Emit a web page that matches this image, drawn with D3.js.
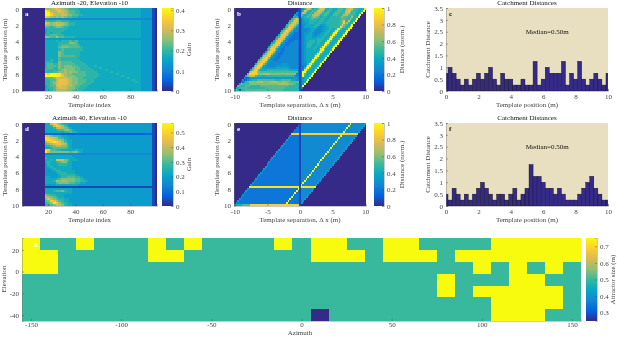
<!DOCTYPE html>
<html>
<head>
<meta charset="utf-8">
<script src="https://cdn.jsdelivr.net/npm/d3@7"></script>
<style>
body { margin: 0; background: #fff; }
svg { filter: blur(0.35px); }
text { font-family: "Liberation Serif", serif; font-size: 7px; fill: #444; }
.cell { shape-rendering: crispEdges; }
</style>
</head>
<body>
<div id="vis"></div>
<script>
// template gain, hex digit per cell, columns start at template index 18 and are 2 wide
const gainA = [
"a9abcba987 7766666666 6666666666 6666655551",
"fdaabcba98 8776666666 6666666666 6666655551",
"ffcaabba98 8776666666 6666666666 6666655551",
"ffdbaabb99 8877666666 6666666666 6666655551",
"dca9a9a988 7766666666 6666666666 6666655551",
"4444444444 4444444444 4444444444 4444444441",
"8777887776 6666666666 6666666666 6666655551",
"cb9abaa987 7666666666 6666666666 6666655551",
"ba9abba987 7666666666 6666666666 6666655551",
"8878998776 6666666666 6666666666 6666655551",
"6777777766 6666666666 6666666666 6666655551",
"6777777666 6666666666 6666666666 6666655551",
"6767776666 6666666666 6666666666 6666655551",
"7788877666 6666666666 6666666666 6666655551",
"a988a88777 7666666666 6666666666 6666655551",
"5555555555 5555555555 5555555555 5555555551",
"6666767778 7866666666 6666666666 6666655551",
"6666677779 9866666666 6666666666 6666655551",
"6666678888 8876666666 6666666666 6666655551",
"6666689998 8887666666 6666666666 6666655551",
"6666678777 7777666666 6666666666 6666655551",
"6666698777 7776666666 6666666666 6666655551",
"6666698777 7776666666 6666666666 6666655551",
"6666698888 8776666666 6666666666 6666655551",
"6666687777 7766666666 6666666666 6666655551",
"6676687777 7776666666 6666666666 6666655551",
"7776698888 7777666666 6666666666 6666655551",
"7887798888 8777766666 6666666666 6666655551",
"7888798999 8877776676 6666666666 6666655551",
"7887798999 9887777666 7666666666 6666655551",
"8777789a99 9887777766 6676666666 6666655551",
"7778899a9a 9988877776 6666766666 6666655551",
"edffeeba99 8888877777 6666667666 6666655551",
"fffffeca99 9888877777 6666666676 6666655551",
"8889bbbbaa 9988777776 6666666666 7666655551",
"7788acccba 9988877766 6666666666 6676655551",
"7789bcccba 9988877766 6666666666 6667655551",
"7789bcccba 9988777666 6666666666 6666655551",
"6788bcbbaa 9887776666 6666666666 6666655551",
"6778abbba9 9877766666 6666666666 6666655551",
"6778aaaa99 8877666666 6666666666 6666655551"
];
const gainD = [
"66bdc97665 5555555555 5555555555 5555555551",
"667bdca865 5555555555 5555555555 5555555551",
"6667aba986 5555555555 5555555555 5555555551",
"66667889a8 6555555555 5555555555 5555555551",
"6666666778 7655555555 5555555555 5555555551",
"2222222222 2222222222 2222222222 2222222221",
"cb98876655 5555555555 5555555555 5555555551",
"edcba87665 5555555555 5555555555 5555555551",
"dedcba9766 5555555555 5555555555 5555555551",
"acdedca866 5555555555 5555555555 5555555551",
"89abccba76 5555555555 5555555555 5555555551",
"7789aa9976 5555555555 5555555555 5555555551",
"6678888876 5555555555 5555555555 5555555551",
"dd88776666 6766555555 5555555555 5555555551",
"fb99999998 9976555555 5555555555 5555555551",
"4444444444 4444444444 4444444444 4444444441",
"6666666666 5555555555 5555555555 5555555551",
"7666666666 6555555555 5555555555 5555555551",
"6676bbb986 6655555555 5555555555 5555555551",
"6766789976 5555555555 5555555555 5555555551",
"5766677766 5555555555 5555555555 5555555551",
"5676666666 5555555555 5555555555 5555555551",
"5567666666 5555555555 5555555555 5555555551",
"5556776666 6555555555 5555555555 5555555551",
"5555677766 6555555555 5555555555 5555555551",
"5555567777 7655555555 5555555555 5555555551",
"6655567788 8776555555 5555555555 5555555551",
"6666789999 9887655555 5555555555 5555555551",
"6667a9aa99 9887765555 5555555555 5555555551",
"6666899998 8776655555 5555555555 5555555551",
"5555666666 6655555555 5555555555 5555555551",
"1111111111 1111111111 1111111111 1111111111",
"6666666666 5555555555 5555555555 5555555551",
"6667889766 5555555555 5555555555 5555555551",
"6666666666 5555555555 5555555555 5555555551",
"9877666555 5555555555 5555555555 5555555551",
"ba98766555 5555555555 5555555555 5555555551",
"9ca9877665 5555555555 5555555555 5555555551",
"89dca87665 5555555555 5555555555 5555555551",
"78aeca8766 5555555555 5555555555 5555555551",
"7789ba9766 5555555555 5555555555 5555555551"
];
// normalised distance, hex digit per cell, one row per position and one column per other position
const distB = [
"1357acb867 78bcca7687 766788877a bcb8777667 e",
"2147cb8678 78bcba7687 766788877a bcb8777667 e",
"5217ba7678 7aabba7788 7667888778 abb8787667 e",
"6421976778 7aaba97788 7667888778 aaa8787767 f",
"7673176778 789a987677 7667777778 a88877a767 f",
"78ac913567 6788777677 7667777777 888877b767 f",
"78acc91356 6677777677 7667777777 789c77c767 f",
"78acca9135 5667776677 7667777777 7789d8a767 f",
"78bccb8513 4566666677 6556677777 7778d98767 f",
"67bccb8541 3466666677 5445566777 7777e98767 f",
"68bcda7544 1344445666 5444556677 667ef86667 f",
"79cdca7544 3134445566 5444456677 667ef86667 f",
"78ccca7543 3313455566 5444456677 667ef86667 f",
"68ccda7443 3331345566 6544556677 667ef86667 f",
"68bcca6443 3333134566 6655566677 667ef86667 f",
"67ccca6443 3333313456 6666667777 667ef86667 f",
"67ccdb6443 3334431345 6677776777 667ef86667 f",
"67ccdb6443 3344443134 5677776677 667ef86667 f",
"68ccdb6443 3344444313 4567776667 667ef86667 f",
"68ccda6443 4444444431 3456776667 667ef86667 f",
"68cdda6443 3444444443 1345666667 667ef86667 f",
"69cdda6443 3444444444 3134566666 667ef86667 f",
"69cdda6443 3344444444 4313456666 667ef86667 f",
"6accda6443 3344444444 4431345666 667ef86667 f",
"7acdd96443 3344444444 4443134566 667ef86667 f",
"7acdd96443 3344444444 4444313456 667ef86667 f",
"7acdd96544 4444444444 4444431345 567ef86667 f",
"7acdd96544 4444445555 4444443134 457ef86667 f",
"7bcdd86544 4444555555 5544444313 347ef86667 f",
"7bcdd86555 5555566666 6655444431 337ef86667 f",
"69cdd86666 7777777777 7777666663 134ef86667 f",
"9bddda9888 8888888888 8888888888 313ff86667 f",
"8dddddc999 aaaa999999 9999999999 4313f86667 f",
"69bbba8777 6677777777 7777777777 54313f7667 f",
"5234555555 5555555555 5555555555 5554135667 f",
"5134567778 8888888888 7777888888 6665513567 f",
"4267899999 aaaa9999aa aaa999a999 8888881356 f",
"6a87879999 9999999999 9999aaaaaa 9998877135 f",
"8867788877 7777888888 8888888888 8877777713 f",
"6678888777 7777777788 8888888888 7777777761 3",
"8861777888 8888888888 8888888888 7777777777 1"
];
const distE = [
"1344444444 4444444444 4444444444 4f44444444 5",
"3144444444 4444444444 4444444444 4f44444444 5",
"3314444444 4444444444 4444444444 4f44444444 5",
"3331444444 4444444444 4444444444 4f44444444 5",
"3333144444 4444444444 4444444444 4f44444444 5",
"ddddd2dddd dddddddddd dddddddddd dfdddddddd d",
"5333331444 4444444444 4444444444 4f44444444 5",
"5333333144 4444444444 4444444444 4f44444444 5",
"5333333314 4444444444 4444444444 4f44444444 5",
"5333333331 4444444444 4444444444 4f44444444 5",
"5333333333 1444444444 4444444444 4f44444444 5",
"5333333333 3144444444 4444444444 4f44444444 5",
"5333333333 3314444444 4444444444 4f44444444 5",
"5333333333 3331444444 4444444444 4f44444444 5",
"5333333333 3333144444 4444444444 4f44444444 5",
"5333333333 3333314444 4444444444 4f44444444 5",
"5333333333 3333331444 4444444444 4f44444444 5",
"5333333333 3333333144 4444444444 4f44444444 5",
"5333333333 3333333314 4444444444 4f44444444 5",
"5333333333 3333333331 4444444444 4f44444444 5",
"5333333333 3333333333 1444444444 4f44444444 5",
"5333333333 3333333333 3144444444 4f44444444 5",
"5333333333 3333333333 3314444444 4f44444444 5",
"5333333333 3333333333 3331444444 4f44444444 5",
"5333333333 3333333333 3333144444 4f44444444 5",
"5333333333 3333333333 3333314444 4f44444444 5",
"5333333333 3333333333 3333331444 4f44444444 5",
"5333333333 3333333333 3333333144 4f44444444 5",
"5333333333 3333333333 3333333314 4f44444444 5",
"5333333333 3333333333 3333333331 4f44444444 5",
"5333333333 3333333333 3333333333 1f44444444 5",
"eeeeeeeeee eeeeeeeeee eeeeeeeeee e2eeeeeeee e",
"5333333333 3333333333 3333333333 3f14444444 5",
"5333333333 3333333333 3333333333 3f31444444 5",
"5333333333 3333333333 3333333333 3f33144444 5",
"5333333333 3333333333 3333333333 3f33314444 5",
"5333333333 3333333333 3333333333 3f33331444 5",
"5333333333 3333333333 3333333333 3f33333144 5",
"5333333333 3333333333 3333333333 3f33333314 5",
"5333333333 3333333333 3333333333 3f33333331 5",
"6666688888 dddddddddd dddddddddd dfdddddddd 1"
];
const catchC = [0.75,1,0.75,0.5,0.25,0.5,0.25,0.5,0.75,0.5,0.75,1,0.5,0.25,0.75,0.5,0.5,0.25,0.25,0.5,0.25,0.25,1.25,0.25,0.5,1,0.75,0.75,0.75,1.25,0.25,0.75,0.5,1.25,0.5,0.25,0.5,0.75,0.5,0.25,0.75];
const catchF = [0.5,0.25,0.75,0.5,0.25,0.5,0.25,0.5,0.75,1,0.75,0.5,0.25,0.5,0.5,0.25,0.5,0.75,0.25,0.5,0.75,1.75,1.25,1.25,1,0.75,0.75,0.5,0.75,0.5,0.25,0.25,0.25,0.5,0.75,1,1.25,0.75,0.5,0.25,0.25];
const azimuths = [-150,-140,-130,-120,-110,-100,-90,-80,-70,-60,-50,-40,-30,-20,-10,0,10,20,30,40,50,60,70,80,90,100,110,120,130,140,150];
const elevations = [25.1, 14.3, 3.4, -7.4, -18.3, -29.1, -40];
// attractor size per elevation row and azimuth: 0 = 0.25 m, 1 = 0.5 m, 2 = 0.75 m
const attractor = [
"2112111212 1111212211 2211112222 2",
"2211111221 1111112221 2221222222 2",
"2211111111 1111111111 1111121212 1",
"1111111111 1111111111 1112111221 1",
"1111111111 1111111111 1112122222 1",
"1111111111 1111111111 1111112222 1",
"1111111111 1111110111 1111112221 1"
];
const parulaStops = ["#352a87", "#0363e1", "#1485d4", "#06a7c6", "#38b99e", "#92bf73", "#d9ba56", "#fcce2e", "#f9fb0e"];

const parula = d3.scaleLinear()
    .domain(parulaStops.map((c, i) => i / (parulaStops.length - 1)))
    .range(parulaStops)
    .interpolate(d3.interpolateRgb);

const svg = d3.select("#vis").append("svg")
    .attr("width", 617)
    .attr("height", 337);

const cells = s => s.replace(/ /g, "").split("");
const plain = d => String(d);
let clipCount = 0;

function panel(box) {
    const id = "clip" + (clipCount++);
    svg.append("clipPath").attr("id", id).append("rect")
        .attr("x", box.x0).attr("y", box.y0)
        .attr("width", box.x1 - box.x0).attr("height", box.y1 - box.y0);
    return svg.append("g").attr("clip-path", "url(#" + id + ")");
}

function label(x, y, str, rotate, anchor) {
    const t = svg.append("text")
        .attr("text-anchor", anchor || "middle")
        .attr("dominant-baseline", "central")
        .text(str);
    if (rotate) t.attr("transform", "translate(" + x + "," + y + ") rotate(" + rotate + ")");
    else t.attr("x", x).attr("y", y);
    return t;
}

function drawAxis(axis, x, y) {
    const g = svg.append("g").attr("transform", "translate(" + x + "," + y + ")").call(axis);
    g.select(".domain").attr("stroke", "#777").attr("stroke-width", 0.4);
    g.selectAll(".tick line").attr("stroke", "#444").attr("stroke-width", 0.4);
    g.selectAll("text").attr("fill", null);
    return g;
}

function colorbar(x0, x1, y0, y1, vmin, vmax, ticks, name, nameX) {
    const c = d3.scaleLinear().domain([vmin, vmax]).range([y1, y0]);
    svg.append("g").selectAll("rect").data(d3.range(y0, y1, 1)).enter().append("rect")
        .attr("class", "cell")
        .attr("x", x0).attr("y", d => d)
        .attr("width", x1 - x0).attr("height", 1)
        .attr("fill", d => parula((c.invert(d + 0.5) - vmin) / (vmax - vmin)));
    drawAxis(d3.axisRight(c).tickValues(ticks).tickFormat(plain).tickSize(-2).tickPadding(3), x1, 0);
    label(nameX, (y0 + y1) / 2, name, -90);
}

function heatFrame(box, title, xLabel) {
    const y = d3.scaleLinear().domain([-0.125, 10.125]).range([box.y0, box.y1]);
    label((box.x0 + box.x1) / 2, box.y0 - 5, title).style("fill", "#111");
    label(box.yLabelX, (box.y0 + box.y1) / 2, "Template position (m)", -90);
    label((box.x0 + box.x1) / 2, box.y1 + 13.5, xLabel);
    const g = panel(box);
    g.append("rect").attr("x", box.x0).attr("y", box.y0)
        .attr("width", box.x1 - box.x0).attr("height", box.y1 - box.y0)
        .attr("fill", "#352a87");
    return { y, g };
}

function finishHeat(box, x, y, xTicks, letter) {
    drawAxis(d3.axisBottom(x).tickValues(xTicks).tickFormat(plain).tickSize(-2).tickPadding(3), 0, box.y1);
    drawAxis(d3.axisLeft(y).tickValues([0, 2, 4, 6, 8, 10]).tickFormat(plain).tickSize(-2).tickPadding(3), box.x0, 0);
    label(box.x0 + 3, box.y0 + 6, letter, 0, "start").style("fill", "#fff").style("font-weight", "bold");
}

function gainPanel(rows, box, title, letter) {
    const x = d3.scaleLinear().domain([1, 99.5]).range([box.x0, box.x1]);
    const f = heatFrame(box, title, "Template index");
    rows.forEach((row, r) => {
        f.g.append("g").selectAll("rect").data(cells(row)).enter().append("rect")
            .attr("class", "cell")
            .attr("x", (d, i) => x(18 + 2 * i - 0.5))
            .attr("y", f.y((r - 0.5) * 0.25))
            .attr("width", x(2) - x(0) + 0.3)
            .attr("height", f.y(0.25) - f.y(0) + 0.3)
            .attr("fill", d => parula(parseInt(d, 16) / 15));
    });
    finishHeat(box, x, f.y, [20, 40, 60, 80], letter);
}

function distPanel(rows, box, letter) {
    const x = d3.scaleLinear().domain([-10.125, 10.125]).range([box.x0, box.x1]);
    const f = heatFrame(box, "Distance", "Template separation, \u0394 x (m)");
    rows.forEach((row, r) => {
        f.g.append("g").selectAll("rect").data(cells(row)).enter().append("rect")
            .attr("class", "cell")
            .attr("x", (d, k) => x((k - r - 0.5) * 0.25))
            .attr("y", f.y((r - 0.5) * 0.25))
            .attr("width", x(0.25) - x(0) + 0.3)
            .attr("height", f.y(0.25) - f.y(0) + 0.3)
            .attr("fill", d => parula(parseInt(d, 16) / 15));
    });
    finishHeat(box, x, f.y, [-10, -5, 0, 5, 10], letter);
}

function catchPanel(values, box, letter) {
    const x = d3.scaleLinear().domain([0, 10]).range([box.x0, box.x1]);
    const y = d3.scaleLinear().domain([0, 3.5]).range([box.y1, box.y0]);
    const g = panel(box);
    g.append("rect").attr("x", box.x0).attr("y", box.y0)
        .attr("width", box.x1 - box.x0).attr("height", box.y1 - box.y0)
        .attr("fill", "#e8dfc1");
    g.selectAll(".bar").data(values).enter().append("rect")
        .attr("class", "bar")
        .attr("x", (d, i) => x(i * 0.25 - 0.125))
        .attr("y", d => y(d))
        .attr("width", x(0.25) - x(0))
        .attr("height", d => box.y1 - y(d))
        .attr("fill", "#352a87")
        .attr("stroke", "#111")
        .attr("stroke-width", 0.4);
    label((box.x0 + box.x1) / 2, box.y0 - 5, "Catchment Distances").style("fill", "#111");
    label(box.yLabelX, (box.y0 + box.y1) / 2, "Catchment Distance", -90);
    label((box.x0 + box.x1) / 2, box.y1 + 13.5, "Template position (m)");
    label(x(6.25), y(2.5), "Median=0.50m").style("fill", "#111");
    drawAxis(d3.axisBottom(x).tickValues([0, 2, 4, 6, 8, 10]).tickFormat(plain).tickSize(-2).tickPadding(3), 0, box.y1);
    drawAxis(d3.axisLeft(y).tickValues([0, 0.5, 1, 1.5, 2, 2.5, 3, 3.5]).tickFormat(plain).tickSize(-2).tickPadding(3), box.x0, 0);
    label(box.x0 + 3, box.y0 + 6, letter, 0, "start").style("fill", "#111").style("font-weight", "bold");
}

gainPanel(gainA, { x0: 22, x1: 157, y0: 8, y1: 91, yLabelX: 5 }, "Azimuth -20, Elevation -10", "a");
colorbar(162, 173, 8, 91, 0, 0.41, [0, 0.1, 0.2, 0.3, 0.4], "Gain", 189);
distPanel(distB, { x0: 234, x1: 366, y0: 8, y1: 91, yLabelX: 217 }, "b");
colorbar(374, 384, 8, 91, 0, 1, [0, 0.2, 0.4, 0.6, 0.8, 1], "Distance (norm.)", 402);
catchPanel(catchC, { x0: 446, x1: 608, y0: 8, y1: 91, yLabelX: 428 }, "c");

gainPanel(gainD, { x0: 22, x1: 157, y0: 123, y1: 206, yLabelX: 5 }, "Azimuth 40, Elevation -10", "d");
colorbar(162, 173, 123, 206, 0, 0.564, [0, 0.1, 0.2, 0.3, 0.4, 0.5], "Gain", 189);
distPanel(distE, { x0: 234, x1: 366, y0: 123, y1: 206, yLabelX: 217 }, "e");
colorbar(374, 384, 123, 206, 0, 1, [0, 0.2, 0.4, 0.6, 0.8, 1], "Distance (norm.)", 402);
catchPanel(catchF, { x0: 446, x1: 608, y0: 123, y1: 206, yLabelX: 428 }, "f");

// bottom attractor map
const mapBox = { x0: 22, x1: 581, y0: 238, y1: 321 };
const azX = d3.scaleLinear().domain([-155, 155]).range([mapBox.x0, mapBox.x1]);
const elY = d3.scaleLinear().domain([30.9, -45.5]).range([mapBox.y0, mapBox.y1]);
const mapG = panel(mapBox);
attractor.forEach((row, r) => {
    mapG.append("g").selectAll("rect").data(cells(row)).enter().append("rect")
        .attr("class", "cell")
        .attr("x", (d, i) => azX(azimuths[i] - 5))
        .attr("y", elY(elevations[r] + 5.45))
        .attr("width", azX(10) - azX(0) + 0.3)
        .attr("height", elY(-10.9) - elY(0) + 0.3)
        .attr("fill", d => parula(+d / 2));
});
drawAxis(d3.axisBottom(azX).tickValues([-150, -100, -50, 0, 50, 100, 150]).tickFormat(plain).tickSize(-2).tickPadding(1.5), 0, mapBox.y1);
drawAxis(d3.axisLeft(elY).tickValues([20, 0, -20, -40]).tickFormat(plain).tickSize(-2).tickPadding(3), mapBox.x0, 0);
label(3.5, 279, "Elevation", -90);
label(300, 333, "Azimuth");
label(34, 244, "g", 0, "start").style("fill", "#fff").style("font-weight", "bold");
colorbar(586, 597, 238, 321, 0.25, 0.75, [0.3, 0.4, 0.5, 0.6, 0.7], "Attractor size (m)", 613);
</script>
</body>
</html>
